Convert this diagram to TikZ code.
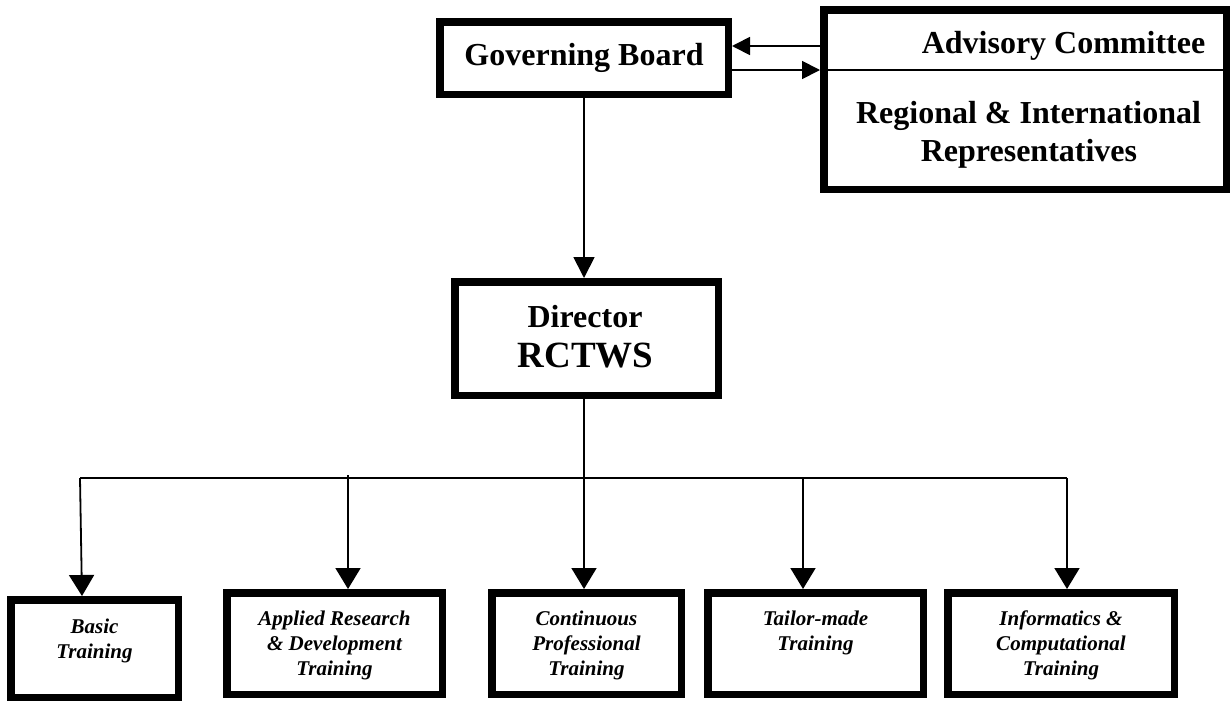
\documentclass[tikz,border=0pt]{standalone}
\usepackage{fontspec}
\setmainfont{Liberation Serif}
\usetikzlibrary{arrows.meta}
\tikzset{
  thickbox/.style={draw, rectangle, line width=7.5pt, inner sep=0pt},
  bbox/.style={thickbox, minimum height=101.5pt},
  conn/.style={line width=1.8pt},
  darr/.style={conn, -{Triangle[length=21pt,width=25pt]}},
  dirarr/.style={conn, -{Triangle[length=21pt,width=21pt]}},
  harr/.style={conn, -{Triangle[length=18pt,width=18pt]}},
  toptext/.style={font=\fontsize{32}{38}\selectfont\bfseries, inner sep=0pt, anchor=base},
}
\newcommand\btxt[2][72pt]{\parbox[c][#1][t]{160pt}{\centering\fontsize{21}{25}\selectfont\bfseries\itshape\strut #2}}
\begin{document}
\begin{tikzpicture}[x=1pt,y=-1pt]
\useasboundingbox (0,0) rectangle (1231,702);
\coordinate (yA) at (0,46);
\coordinate (yB) at (0,70);
% top row
\node[thickbox, minimum width=288.5pt, minimum height=72.5pt,
      font=\fontsize{32}{38}\selectfont\bfseries] (gb) at (584,58) {Governing Board};
\node[thickbox, minimum width=402.5pt, minimum height=179.5pt] (adv) at (1025,99.5) {};
\node[toptext] (advc) at (1063.5,53) {Advisory Committee};
\node[toptext] (reg1) at (1028.5,123) {Regional \& International};
\node[toptext] (reg2) at (1029,161) {Representatives};
\draw[line width=1.6pt] (adv.west |- yB) -- (adv.east |- yB);
\draw[harr] (adv.west |- yA) -- (gb.east |- yA);
\draw[harr] (gb.east |- yB) -- (adv.west |- yB);
% director
\node[thickbox, minimum width=263.5pt, minimum height=113.5pt] (dir) at (586.5,338.5) {};
\node[toptext] (dirt) at (585,327) {Director};
\node[toptext, font=\fontsize{37}{44}\selectfont\bfseries] (rct) at (585.5,367) {RCTWS};
\draw[dirarr] (gb.south) -- (dir.north -| gb.south);
% bottom row
\node[bbox, minimum width=167.5pt, minimum height=97.5pt] (basic) at (94.5,648.5) {\btxt[65pt]{Basic\\Training}};
\node[bbox, minimum width=215.5pt] (ard) at (334.5,643.5) {\btxt{Applied Research\\\& Development\\Training}};
\node[bbox, minimum width=189.5pt] (cpt) at (586.5,643.5) {\btxt{Continuous\\Professional\\Training}};
\node[bbox, minimum width=215.5pt] (tmt) at (815.5,643.5) {\btxt{Tailor-made\\Training}};
\node[bbox, minimum width=226.5pt] (ict) at (1061,643.5) {\btxt{Informatics \&\\Computational\\Training}};
% bus
\coordinate (bL) at (80,478);
\coordinate (bR) at (1067,478);
\coordinate (bM) at (584,478);
\coordinate (bB) at (82,478);
\coordinate (bA) at (348,475);
\coordinate (bT) at (803,478);
\draw[conn] (bL) -- (bR);
\draw[darr] (dir.south -| bM) -- (cpt.north -| bM);
\draw[darr] (bL) -- (basic.north -| bB);
\draw[darr] (bA) -- (ard.north -| bA);
\draw[darr] (bT) -- (tmt.north -| bT);
\draw[darr] (bR) -- (ict.north -| bR);
\end{tikzpicture}
\end{document}
